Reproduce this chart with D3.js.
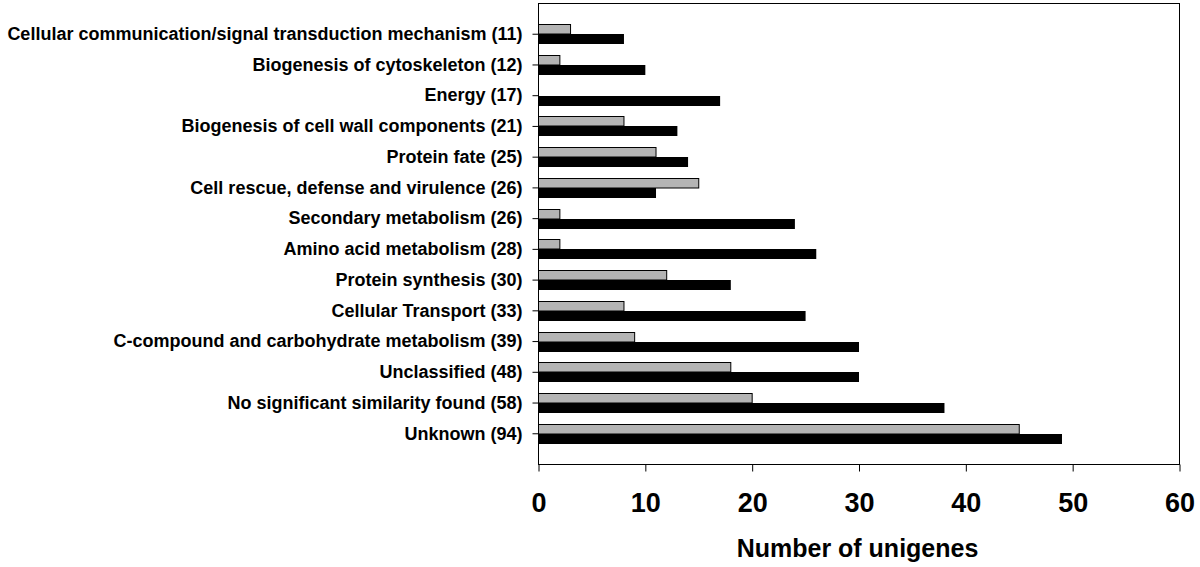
<!DOCTYPE html>
<html>
<head>
<meta charset="utf-8">
<script src="https://cdn.jsdelivr.net/npm/d3@7"></script>
<style>
  html, body { margin: 0; padding: 0; background: #fff; }
  svg { display: block; }
  text { font-family: "Liberation Sans", Arial, sans-serif; font-weight: bold; fill: #000; }
</style>
</head>
<body>
<svg id="chart" width="1200" height="567"></svg>
<script>
const categories = [
  "Cellular communication/signal transduction mechanism (11)",
  "Biogenesis of cytoskeleton (12)",
  "Energy (17)",
  "Biogenesis of cell wall components (21)",
  "Protein fate (25)",
  "Cell rescue, defense and virulence (26)",
  "Secondary metabolism (26)",
  "Amino acid metabolism (28)",
  "Protein synthesis (30)",
  "Cellular Transport (33)",
  "C-compound and carbohydrate metabolism (39)",
  "Unclassified (48)",
  "No significant similarity found (58)",
  "Unknown (94)"
];
const greyValues  = [3, 2, 0, 8, 11, 15, 2, 2, 12, 8, 9, 18, 20, 45];
const blackValues = [8, 10, 17, 13, 14, 11, 24, 26, 18, 25, 30, 30, 38, 49];
const xTicks = [0, 10, 20, 30, 40, 50, 60];
const xTitle = "Number of unigenes";

const svg = d3.select("#chart");
const pLeft = 538.5, pRight = 1179.5, pTop = 3.5, pBottom = 464.5;

const x = d3.scaleLinear().domain([0, 60]).range([pLeft, pRight]);
const y = d3.scaleBand().domain(categories).range([pTop, pBottom]).paddingInner(0).paddingOuter(0.5);

const center = c => y(c) + y.bandwidth() / 2;

// bars
const g = svg.append("g");
g.selectAll("rect.grey").data(categories).join("rect")
  .attr("class", "grey")
  .attr("x", x(0))
  .attr("y", c => Math.round(center(c)) - 9.5)
  .attr("width", (c, i) => x(greyValues[i]) - x(0))
  .attr("height", 9.5)
  .attr("fill", (c, i) => greyValues[i] > 0 ? "#b4b4b4" : "none")
  .attr("stroke", (c, i) => greyValues[i] > 0 ? "#000" : "none")
  .attr("stroke-width", 1);

g.selectAll("rect.black").data(categories).join("rect")
  .attr("class", "black")
  .attr("x", x(0))
  .attr("y", c => Math.round(center(c)))
  .attr("width", (c, i) => x(blackValues[i]) - x(0))
  .attr("height", 10)
  .attr("fill", "#000");

// frame
svg.append("rect")
  .attr("x", pLeft).attr("y", pTop)
  .attr("width", pRight - pLeft).attr("height", pBottom - pTop)
  .attr("fill", "none").attr("stroke", "#000").attr("stroke-width", 1);

// x axis
const xAxis = d3.axisBottom(x).tickValues(xTicks).tickSize(7).tickPadding(21).tickSizeOuter(0);
const gx = svg.append("g").attr("transform", `translate(0,${pBottom})`).call(xAxis);
gx.select(".domain").remove();
gx.selectAll("line").attr("stroke", "#000");
gx.selectAll("text")
  .style("font-family", "'Liberation Sans', Arial, sans-serif")
  .style("font-weight", "bold")
  .style("font-size", "27px")
  .attr("fill", "#000");

// y axis
const yAxis = d3.axisLeft(y).tickSize(6).tickPadding(10).tickSizeOuter(0);
const gy = svg.append("g").attr("transform", `translate(${pLeft},0)`).call(yAxis);
gy.select(".domain").remove();
gy.selectAll("line").attr("stroke", "#000");
gy.selectAll("text")
  .style("font-family", "'Liberation Sans', Arial, sans-serif")
  .style("font-weight", "bold")
  .style("font-size", "18px")
  .attr("fill", "#000");

// x title
svg.append("text")
  .attr("x", (pLeft + pRight) / 2 - 1.5)
  .attr("y", 557)
  .attr("text-anchor", "middle")
  .style("font-size", "25px")
  .text(xTitle);
</script>
</body>
</html>
